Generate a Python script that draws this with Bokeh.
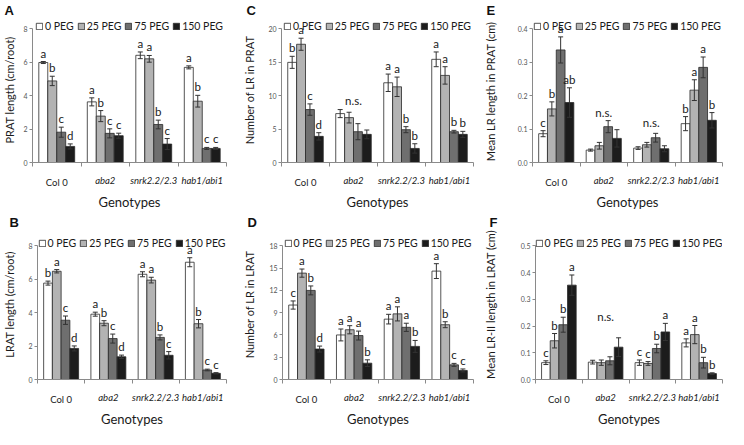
from bokeh.plotting import figure
from bokeh.models import (ColumnDataSource, Range1d, FixedTicker, CustomJSTickFormatter, LinearAxis,
                          NumeralTickFormatter, Whisker, TeeHead, Legend, LegendItem)
from bokeh.layouts import column, row
from bokeh.core.properties import value
from bokeh.embed import file_html
from bokeh.resources import INLINE

genotypes = ["Col 0", "aba2", "snrk2.2/2.3", "hab1/abi1"]
treatments = ["0 PEG", "25 PEG", "75 PEG", "150 PEG"]

# rows = genotypes, columns = treatments (0, 25, 75, 150 PEG)
prat_length = [[5.97, 4.87, 1.81, 0.96], [3.62, 2.77, 1.74, 1.60], [6.40, 6.19, 2.27, 1.10], [5.68, 3.66, 0.84, 0.84]]
prat_length_err = [[0.06, 0.28, 0.30, 0.15], [0.24, 0.33, 0.27, 0.15], [0.20, 0.20, 0.26, 0.33], [0.09, 0.35, 0.06, 0.06]]
prat_length_sig = [["a", "b", "c", "d"], ["a", "b", "c", "c"], ["a", "a", "b", "c"], ["a", "b", "c", "c"]]

lrat_length = [[5.77, 6.48, 3.55, 1.86], [3.91, 3.37, 2.45, 1.36], [6.30, 5.95, 2.52, 1.45], [7.02, 3.34, 0.57, 0.37]]
lrat_length_err = [[0.12, 0.10, 0.25, 0.15], [0.12, 0.15, 0.27, 0.10], [0.15, 0.17, 0.15, 0.22], [0.27, 0.25, 0.05, 0.04]]
lrat_length_sig = [["b", "a", "c", "d"], ["a", "b", "c", "d"], ["a", "a", "b", "c"], ["a", "b", "c", "c"]]

prat_lr_number = [[14.95, 17.65, 7.90, 3.90], [7.30, 6.70, 4.60, 4.20], [11.90, 11.30, 4.90, 2.10], [15.40, 13.00, 4.60, 4.20]]
prat_lr_number_err = [[0.90, 0.90, 0.85, 0.55], [0.60, 0.80, 1.20, 0.65], [1.30, 1.45, 0.45, 0.70], [1.10, 1.30, 0.20, 0.45]]
prat_lr_number_sig = [["b", "a", "c", "d"], ["", "", "", ""], ["a", "a", "b", "b"], ["a", "a", "b", "b"]]
prat_lr_number_ns = {"aba2": 9.3}

lrat_lr_number = [[10.03, 14.33, 12.00, 4.10], [6.00, 6.70, 5.92, 2.20], [8.13, 8.84, 7.03, 4.46], [14.60, 7.38, 1.97, 1.22]]
lrat_lr_number_err = [[0.55, 0.55, 0.60, 0.40], [0.80, 0.55, 0.60, 0.45], [0.65, 0.95, 0.55, 0.80], [1.00, 0.40, 0.20, 0.20]]
lrat_lr_number_sig = [["c", "a", "b", "d"], ["a", "a", "a", "b"], ["a", "a", "a", "b"], ["a", "b", "c", "c"]]

prat_lr_mean = [[0.086, 0.160, 0.336, 0.179], [0.037, 0.050, 0.107, 0.072], [0.043, 0.053, 0.074, 0.041], [0.116, 0.216, 0.284, 0.126]]
prat_lr_mean_err = [[0.009, 0.021, 0.039, 0.044], [0.003, 0.010, 0.018, 0.026], [0.004, 0.007, 0.013, 0.009], [0.021, 0.031, 0.031, 0.023]]
prat_lr_mean_sig = [["c", "b", "a", "ab"], ["", "", "", ""], ["", "", "", ""], ["b", "a", "a", "b"]]
prat_lr_mean_ns = {"aba2": 0.150, "snrk2.2/2.3": 0.120}

lrat_lr2_mean = [[0.063, 0.145, 0.205, 0.353], [0.065, 0.063, 0.070, 0.121], [0.063, 0.060, 0.116, 0.178], [0.137, 0.168, 0.063, 0.022]]
lrat_lr2_mean_err = [[0.007, 0.027, 0.028, 0.038], [0.007, 0.010, 0.015, 0.035], [0.010, 0.007, 0.016, 0.032], [0.015, 0.034, 0.020, 0.003]]
lrat_lr2_mean_sig = [["c", "b", "b", "a"], ["", "", "", ""], ["c", "c", "b", "a"], ["a", "a", "b", "b"]]
lrat_lr2_mean_ns = {"aba2": 0.237}

FILLS = ["#ffffff", "#b3b3b3", "#6f6f6f", "#1c1c1c"]
FONT = "Lato"
TEXT = "#1a1a1a"
AXIS = "#8a8a8a"
BW = 0.185
CAT_SIZE = "9.5px"
TOP = 15  # space for the panel letter


def panel(letter, ylabel, ymax, ystep, fmt, means, errs, sig, ns, w, h, left, right, axis_top, bottom,
          ylab_standoff, legend_margin):
    frame_h = h - TOP - bottom
    axis_h = h - axis_top - bottom
    p = figure(width=w, height=h, x_range=Range1d(0, len(genotypes)),
               y_range=Range1d(0, ymax * frame_h / axis_h),
               output_backend="svg", toolbar_location=None)
    p.min_border_left, p.min_border_right = left, right
    p.min_border_top, p.min_border_bottom = TOP, bottom
    p.outline_line_color = None
    p.xgrid.visible = False
    p.ygrid.visible = False

    p.title.text = letter
    p.title.align = "left"
    p.title.offset = -(left - 3)
    p.title.standoff = 0
    p.title.text_font = "Liberation Sans"
    p.title.text_font_style = "bold"
    p.title.text_font_size = "13px"
    p.title.text_color = "#111111"

    items = []
    wx, wl, wu, tx, ty, tt = [], [], [], [], [], []
    for ti, t in enumerate(treatments):
        xs = [gi + 0.5 + (ti - 1.5) * BW for gi in range(len(genotypes))]
        ys = [means[gi][ti] for gi in range(len(genotypes))]
        es = [errs[gi][ti] for gi in range(len(genotypes))]
        src = ColumnDataSource(dict(x=xs, top=ys))
        r = p.vbar(x="x", top="top", width=BW, source=src, fill_color=FILLS[ti],
                   line_color="#2a2a2a", line_width=0.8)
        items.append(LegendItem(label=t, renderers=[r]))
        for gi in range(len(genotypes)):
            wx.append(xs[gi]); wl.append(ys[gi] - es[gi]); wu.append(ys[gi] + es[gi])
            if sig[gi][ti]:
                tx.append(xs[gi]); ty.append(ys[gi] + es[gi]); tt.append(sig[gi][ti])

    wsrc = ColumnDataSource(dict(base=wx, lower=wl, upper=wu))
    p.add_layout(Whisker(base="base", lower="lower", upper="upper", source=wsrc,
                         line_color="#333333", line_width=1, level="overlay",
                         upper_head=TeeHead(size=5, line_color="#333333", line_width=1),
                         lower_head=TeeHead(size=5, line_color="#333333", line_width=1)))

    tsrc = ColumnDataSource(dict(x=tx, y=ty, text=tt))
    p.text(x="x", y="y", text="text", source=tsrc, text_align="center", text_baseline="bottom",
           y_offset=-2, text_font=value(FONT), text_font_size=value("11.5px"), text_color=TEXT)
    if ns:
        nsrc = ColumnDataSource(dict(x=[genotypes.index(g) + 0.5 for g in ns], y=list(ns.values()),
                                     text=["n.s."] * len(ns)))
        p.text(x="x", y="y", text="text", source=nsrc, text_align="center", text_baseline="middle",
               text_font=value(FONT), text_font_size=value("11.5px"), text_color=TEXT)

    legend = Legend(items=items, orientation="horizontal", location="top_center",
                    glyph_width=8, glyph_height=8, label_standoff=2, spacing=3,
                    padding=0, margin=legend_margin, label_height=10, label_width=10,
                    label_text_font=FONT, label_text_font_size="10.5px", label_text_color=TEXT,
                    border_line_color=None, background_fill_alpha=0)
    p.add_layout(legend)

    ya = p.yaxis[0]
    ya.bounds = (0, ymax)
    ya.ticker = FixedTicker(ticks=[i * ystep for i in range(int(round(ymax / ystep)) + 1)])
    ya.formatter = NumeralTickFormatter(format=fmt)
    ya.axis_line_color = AXIS
    ya.major_tick_line_color = AXIS
    ya.major_tick_out = 3
    ya.major_tick_in = 0
    ya.minor_tick_line_color = None
    ya.major_label_text_font = FONT
    ya.major_label_text_font_size = "7px"
    ya.major_label_text_color = "#555555"
    ya.major_label_standoff = 2
    ya.axis_label = ylabel
    ya.axis_label_text_font = FONT
    ya.axis_label_text_font_style = "normal"
    ya.axis_label_text_font_size = "11px"
    ya.axis_label_text_color = TEXT
    ya.axis_label_standoff = ylab_standoff

    # inner x axis: boundary ticks and italic mutant names
    xa = p.xaxis[0]
    xa.ticker = FixedTicker(ticks=[i + 0.5 for i in range(1, len(genotypes))],
                            minor_ticks=[i for i in range(len(genotypes) + 1)])
    xa.formatter = CustomJSTickFormatter(args=dict(names=genotypes),
                                         code="return names[Math.round(tick - 0.5)] ?? '';")
    xa.axis_line_color = AXIS
    xa.major_tick_line_color = None
    xa.major_tick_out = 0
    xa.major_tick_in = 0
    xa.minor_tick_line_color = AXIS
    xa.minor_tick_out = 4
    xa.minor_tick_in = 0
    xa.major_label_text_font = FONT
    xa.major_label_text_font_style = "italic"
    xa.major_label_text_font_size = CAT_SIZE
    xa.major_label_text_color = TEXT
    xa.major_label_standoff = 8

    # outer x axis: upright wild-type name on the same row, and the axis title
    xb = LinearAxis(ticker=FixedTicker(ticks=[0.5], minor_ticks=[]),
                    formatter=CustomJSTickFormatter(args=dict(names=genotypes),
                                                    code="return names[Math.round(tick - 0.5)] ?? '';"))
    xb.axis_line_color = None
    xb.major_tick_line_color = None
    xb.minor_tick_line_color = None
    xb.major_tick_out = 0
    xb.major_tick_in = 0
    xb.major_label_text_font = FONT
    xb.major_label_text_font_style = "normal"
    xb.major_label_text_font_size = CAT_SIZE
    xb.major_label_text_color = TEXT
    xb.major_label_standoff = -12
    xb.axis_label = "Genotypes"
    xb.axis_label_text_font = FONT
    xb.axis_label_text_font_style = "normal"
    xb.axis_label_text_font_size = "13px"
    xb.axis_label_text_color = TEXT
    xb.axis_label_standoff = 3
    p.add_layout(xb, "below")
    return p


pA = panel("A", "PRAT length (cm/root)", 8, 2, "0", prat_length, prat_length_err, prat_length_sig, None,
           240, 212, 31, 14, 27, 39, 4, 3)
pC = panel("C", "Number of LR in PRAT", 20, 5, "0", prat_lr_number, prat_lr_number_err, prat_lr_number_sig,
           prat_lr_number_ns, 240, 212, 38, 7, 27, 39, 9, 3)
pE = panel("E", "Mean LR length in PRAT  (cm)", 0.4, 0.1, "0.0", prat_lr_mean, prat_lr_mean_err, prat_lr_mean_sig,
           prat_lr_mean_ns, 248, 212, 49, 6, 27, 39, 18, 3)
pB = panel("B", "LRAT length (cm/root)", 8, 2, "0", lrat_length, lrat_length_err, lrat_length_sig, None,
           240, 217, 31, 14, 33, 37, 9, 8)
pD = panel("D", "Number of LR in LRAT", 18, 3, "0", lrat_lr_number, lrat_lr_number_err, lrat_lr_number_sig, None,
           240, 217, 38, 7, 33, 37, 10, 8)
pF = panel("F", "Mean LR-II length in LRAT (cm)", 0.5, 0.1, "0.0", lrat_lr2_mean, lrat_lr2_mean_err,
           lrat_lr2_mean_sig, lrat_lr2_mean_ns, 248, 217, 49, 6, 33, 37, 21, 8)

layout = column(row(pA, pC, pE), row(pB, pD, pF))
open("out.html", "w").write(file_html(layout, INLINE))
